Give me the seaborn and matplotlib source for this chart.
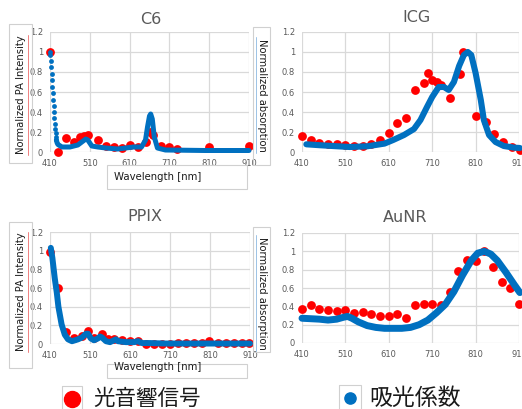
import numpy as np
import pandas as pd
import matplotlib
matplotlib.use("Agg")
import matplotlib.pyplot as plt
import seaborn as sns
from matplotlib.patches import Rectangle, Circle

# ---------------- data ----------------
titles = ["C6", "ICG", "PPIX", "AuNR"]
x_ticks = [410, 510, 610, 710, 810, 910]
y_ticks = [0, 0.2, 0.4, 0.6, 0.8, 1.0, 1.2]
y_tick_labels = ["0", "0.2", "0.4", "0.6", "0.8", "1", "1.2"]

c6_pa_x = [410, 430, 450, 470, 485, 495, 505, 530, 550, 570, 590, 610, 630, 650, 662, 670, 690, 710, 730, 810, 910]
c6_pa_y = [1.0, 0.0, 0.14, 0.10, 0.15, 0.16, 0.17, 0.12, 0.06, 0.05, 0.04, 0.07, 0.05, 0.10, 0.20, 0.17, 0.06, 0.05, 0.03, 0.05, 0.06]
c6_ab_x = [410, 411, 412, 413, 414, 415, 416, 417, 418, 419, 420, 421, 422, 423, 424, 425, 426, 428, 430,
           440, 460, 480, 490, 500, 505, 515, 530, 550, 580, 600, 620, 640, 650, 655, 660, 663, 667, 672, 680, 700, 800, 910]
c6_ab_y = [1.0, 0.97, 0.91, 0.85, 0.78, 0.72, 0.65, 0.59, 0.52, 0.46, 0.40, 0.34, 0.28, 0.23, 0.19, 0.15, 0.12, 0.09, 0.075,
           0.05, 0.05, 0.07, 0.10, 0.13, 0.12, 0.06, 0.05, 0.04, 0.03, 0.04, 0.05, 0.05, 0.12, 0.25, 0.36, 0.38, 0.33, 0.15, 0.04, 0.02, 0.015, 0.015]

icg_pa_x = [410, 430, 450, 470, 490, 510, 530, 550, 570, 590, 610, 630, 650, 670, 690, 700, 710, 720, 730, 750, 773, 782, 812, 833, 853, 873, 893, 912]
icg_pa_y = [0.16, 0.12, 0.09, 0.08, 0.08, 0.07, 0.06, 0.06, 0.08, 0.12, 0.19, 0.29, 0.34, 0.62, 0.69, 0.79, 0.72, 0.70, 0.67, 0.54, 0.78, 1.0, 0.36, 0.30, 0.18, 0.10, 0.05, 0.02]
icg_ab_x = [420, 450, 480, 520, 560, 600, 620, 645, 668, 683, 698, 710, 725, 737, 748, 760, 772, 783, 792, 800, 810, 822, 829, 841, 856, 875, 898, 912]
icg_ab_y = [0.077, 0.068, 0.06, 0.05, 0.057, 0.084, 0.12, 0.17, 0.23, 0.32, 0.45, 0.55, 0.65, 0.65, 0.62, 0.70, 0.86, 0.97, 1.0, 0.97, 0.79, 0.52, 0.32, 0.17, 0.10, 0.06, 0.044, 0.04]

ppix_pa_x = [410, 431, 450, 470, 490, 505, 520, 540, 555, 570, 590, 610, 630, 650, 670, 690, 710, 730, 750, 770, 790, 808, 830, 850, 870, 890, 908]
ppix_pa_y = [0.99, 0.60, 0.13, 0.06, 0.09, 0.14, 0.06, 0.11, 0.05, 0.05, 0.04, 0.03, 0.03, 0.0, 0.0, 0.0, 0.0, 0.01, 0.01, 0.01, 0.01, 0.03, 0.01, 0.01, 0.01, 0.01, 0.01]
ppix_ab_x = [412, 416, 422, 427, 431, 439, 447, 455, 465, 480, 490, 500, 505, 512, 520, 530, 535, 540, 550, 560, 570, 575, 580, 600, 620, 630, 640, 660, 700, 800, 910]
ppix_ab_y = [1.03, 0.92, 0.70, 0.55, 0.40, 0.21, 0.10, 0.05, 0.03, 0.05, 0.07, 0.11, 0.11, 0.06, 0.04, 0.06, 0.08, 0.07, 0.03, 0.02, 0.04, 0.05, 0.03, 0.02, 0.02, 0.03, 0.01, 0.01, 0.005, 0.005, 0.005]

aunr_pa_x = [410, 430, 450, 470, 490, 510, 530, 550, 570, 590, 610, 630, 650, 670, 690, 710, 730, 750, 770, 790, 810, 830, 850, 870, 890, 910]
aunr_pa_y = [0.37, 0.41, 0.37, 0.36, 0.35, 0.36, 0.33, 0.34, 0.32, 0.29, 0.29, 0.32, 0.27, 0.42, 0.43, 0.43, 0.42, 0.56, 0.79, 0.91, 0.89, 1.0, 0.83, 0.67, 0.60, 0.43]
aunr_ab_x = [410, 430, 450, 470, 490, 505, 515, 525, 540, 560, 580, 600, 620, 640, 660, 680, 700, 720, 740, 760, 780, 800, 815, 830, 845, 860, 880, 900, 912]
aunr_ab_y = [0.27, 0.265, 0.26, 0.25, 0.26, 0.28, 0.29, 0.27, 0.23, 0.19, 0.17, 0.16, 0.16, 0.16, 0.17, 0.20, 0.25, 0.33, 0.42, 0.56, 0.74, 0.90, 0.98, 1.0, 0.97, 0.90, 0.77, 0.63, 0.55]

legend_labels = ["光音響信号", "吸光係数"]
ylabel_pa = "Normalized PA Intensity"
ylabel_ab = "Normalized absorption"
xlabel = "Wavelength [nm]"

RED = "#ff0000"
BLUE = "#0070c0"
GRID = "#d9d9d9"
TXT = "#595959"

# ---------------- figure ----------------
sns.set_theme(style="white")
plt.rcParams["font.family"] = ["DejaVu Sans", "Noto Sans CJK JP"]

W, H = 522, 409
fig = plt.figure(figsize=(W / 100, H / 100), dpi=100)


def pos(l, t, r, b):
    return [l / W, 1 - b / H, (r - l) / W, (b - t) / H]


# (title, PA x, PA y, abs x, abs y, plot box px, line width, title pos, dotted-until)
panels = [
    (titles[0], c6_pa_x, c6_pa_y, c6_ab_x, c6_ab_y, (50, 32, 249, 152), 3.6, (151, 19), 426),
    (titles[1], icg_pa_x, icg_pa_y, icg_ab_x, icg_ab_y, (302, 32, 519, 152), 4.4, (417, 17), None),
    (titles[2], ppix_pa_x, ppix_pa_y, ppix_ab_x, ppix_ab_y, (50, 232, 250, 344), 4.3, (145, 217), None),
    (titles[3], aunr_pa_x, aunr_pa_y, aunr_ab_x, aunr_ab_y, (302, 233, 519, 343), 5.0, (405, 218), None),
]

for title, px, py, bx, by, box, lw, tpos, dotted in panels:
    ax = fig.add_axes(pos(*box))
    df_pa = pd.DataFrame({"wl": px, "v": py})
    df_ab = pd.DataFrame({"wl": bx, "v": by})
    sns.scatterplot(data=df_pa, x="wl", y="v", color=RED, s=40, linewidth=0,
                    ax=ax, zorder=3, clip_on=False)
    if dotted is not None:
        df_dots = df_ab[df_ab["wl"] <= dotted]
        df_line = df_ab[df_ab["wl"] >= dotted]
        sns.scatterplot(data=df_dots, x="wl", y="v", color=BLUE, s=12,
                        linewidth=0, ax=ax, zorder=4, clip_on=False)
    else:
        df_line = df_ab
    sns.lineplot(data=df_line, x="wl", y="v", color=BLUE, lw=lw, ax=ax, zorder=4,
                 clip_on=False, solid_capstyle="round", solid_joinstyle="round")
    ax.set_xlim(410, 910)
    ax.set_ylim(0, 1.2)
    ax.set_xticks(x_ticks)
    ax.set_yticks(y_ticks)
    ax.set_yticklabels(y_tick_labels)
    ax.grid(True, color=GRID, lw=0.9)
    ax.set_axisbelow(True)
    for s in ax.spines.values():
        s.set_visible(False)
    ax.tick_params(length=0, labelsize=6, colors=TXT, pad=5)
    ax.set_xlabel("")
    ax.set_ylabel("")
    fig.text(tpos[0] / W, 1 - tpos[1] / H, title, ha="center", va="center",
             fontsize=11.5, color=TXT)

# overlay for label boxes & legend (pixel coordinates)
ov = fig.add_axes([0, 0, 1, 1], facecolor="none")
ov.set_xlim(0, W)
ov.set_ylim(H, 0)
ov.axis("off")


def rect(l, t, r, b):
    ov.add_patch(Rectangle((l, t), r - l, b - t, fill=False, ec="#d0d0d0", lw=0.8))


# y label PA (left panels)
for (t, b, cy) in [(24, 163, 95), (222, 368, 292)]:
    rect(9, t, 32, b)
    ov.text(21, cy, ylabel_pa, rotation=90, ha="center", va="center",
            fontsize=7.2, color="#1a1a1a")
    ov.plot([27.5, 27.5], [cy - 60, cy + 60], color="#f08080", lw=0.7)

# y label absorption (middle)
for (t, b, cy) in [(27, 165, 95), (227, 352, 293)]:
    rect(253, t, 270, b)
    ov.text(262, cy, ylabel_ab, rotation=270, ha="center", va="center",
            fontsize=7.2, color="#1a1a1a")
    ov.plot([255.5, 255.5], [cy - 58, cy + 58], color="#9cc3e6", lw=0.7)

# x labels
for (t, b, cy) in [(165, 189, 177), (364, 378, 367)]:
    rect(107, t, 247, b)
    ov.text(158, cy, xlabel, ha="center", va="center", fontsize=7.3,
            color="#1a1a1a")

# legend
rect(62, 386, 82, 412)
ov.add_patch(Circle((72.5, 399.5), 8, color=RED))
ov.text(93, 399, legend_labels[0], ha="left", va="center", fontsize=15.5,
        color="#1a1a1a", family=["Noto Sans CJK JP", "DejaVu Sans"])
rect(339, 385, 361, 412)
ov.add_patch(Circle((350.5, 398.5), 5.6, color=BLUE))
ov.text(369, 398, legend_labels[1], ha="left", va="center", fontsize=16.5,
        color="#1a1a1a", family=["Noto Sans CJK JP", "DejaVu Sans"])

fig.savefig("out.png", dpi=100)
